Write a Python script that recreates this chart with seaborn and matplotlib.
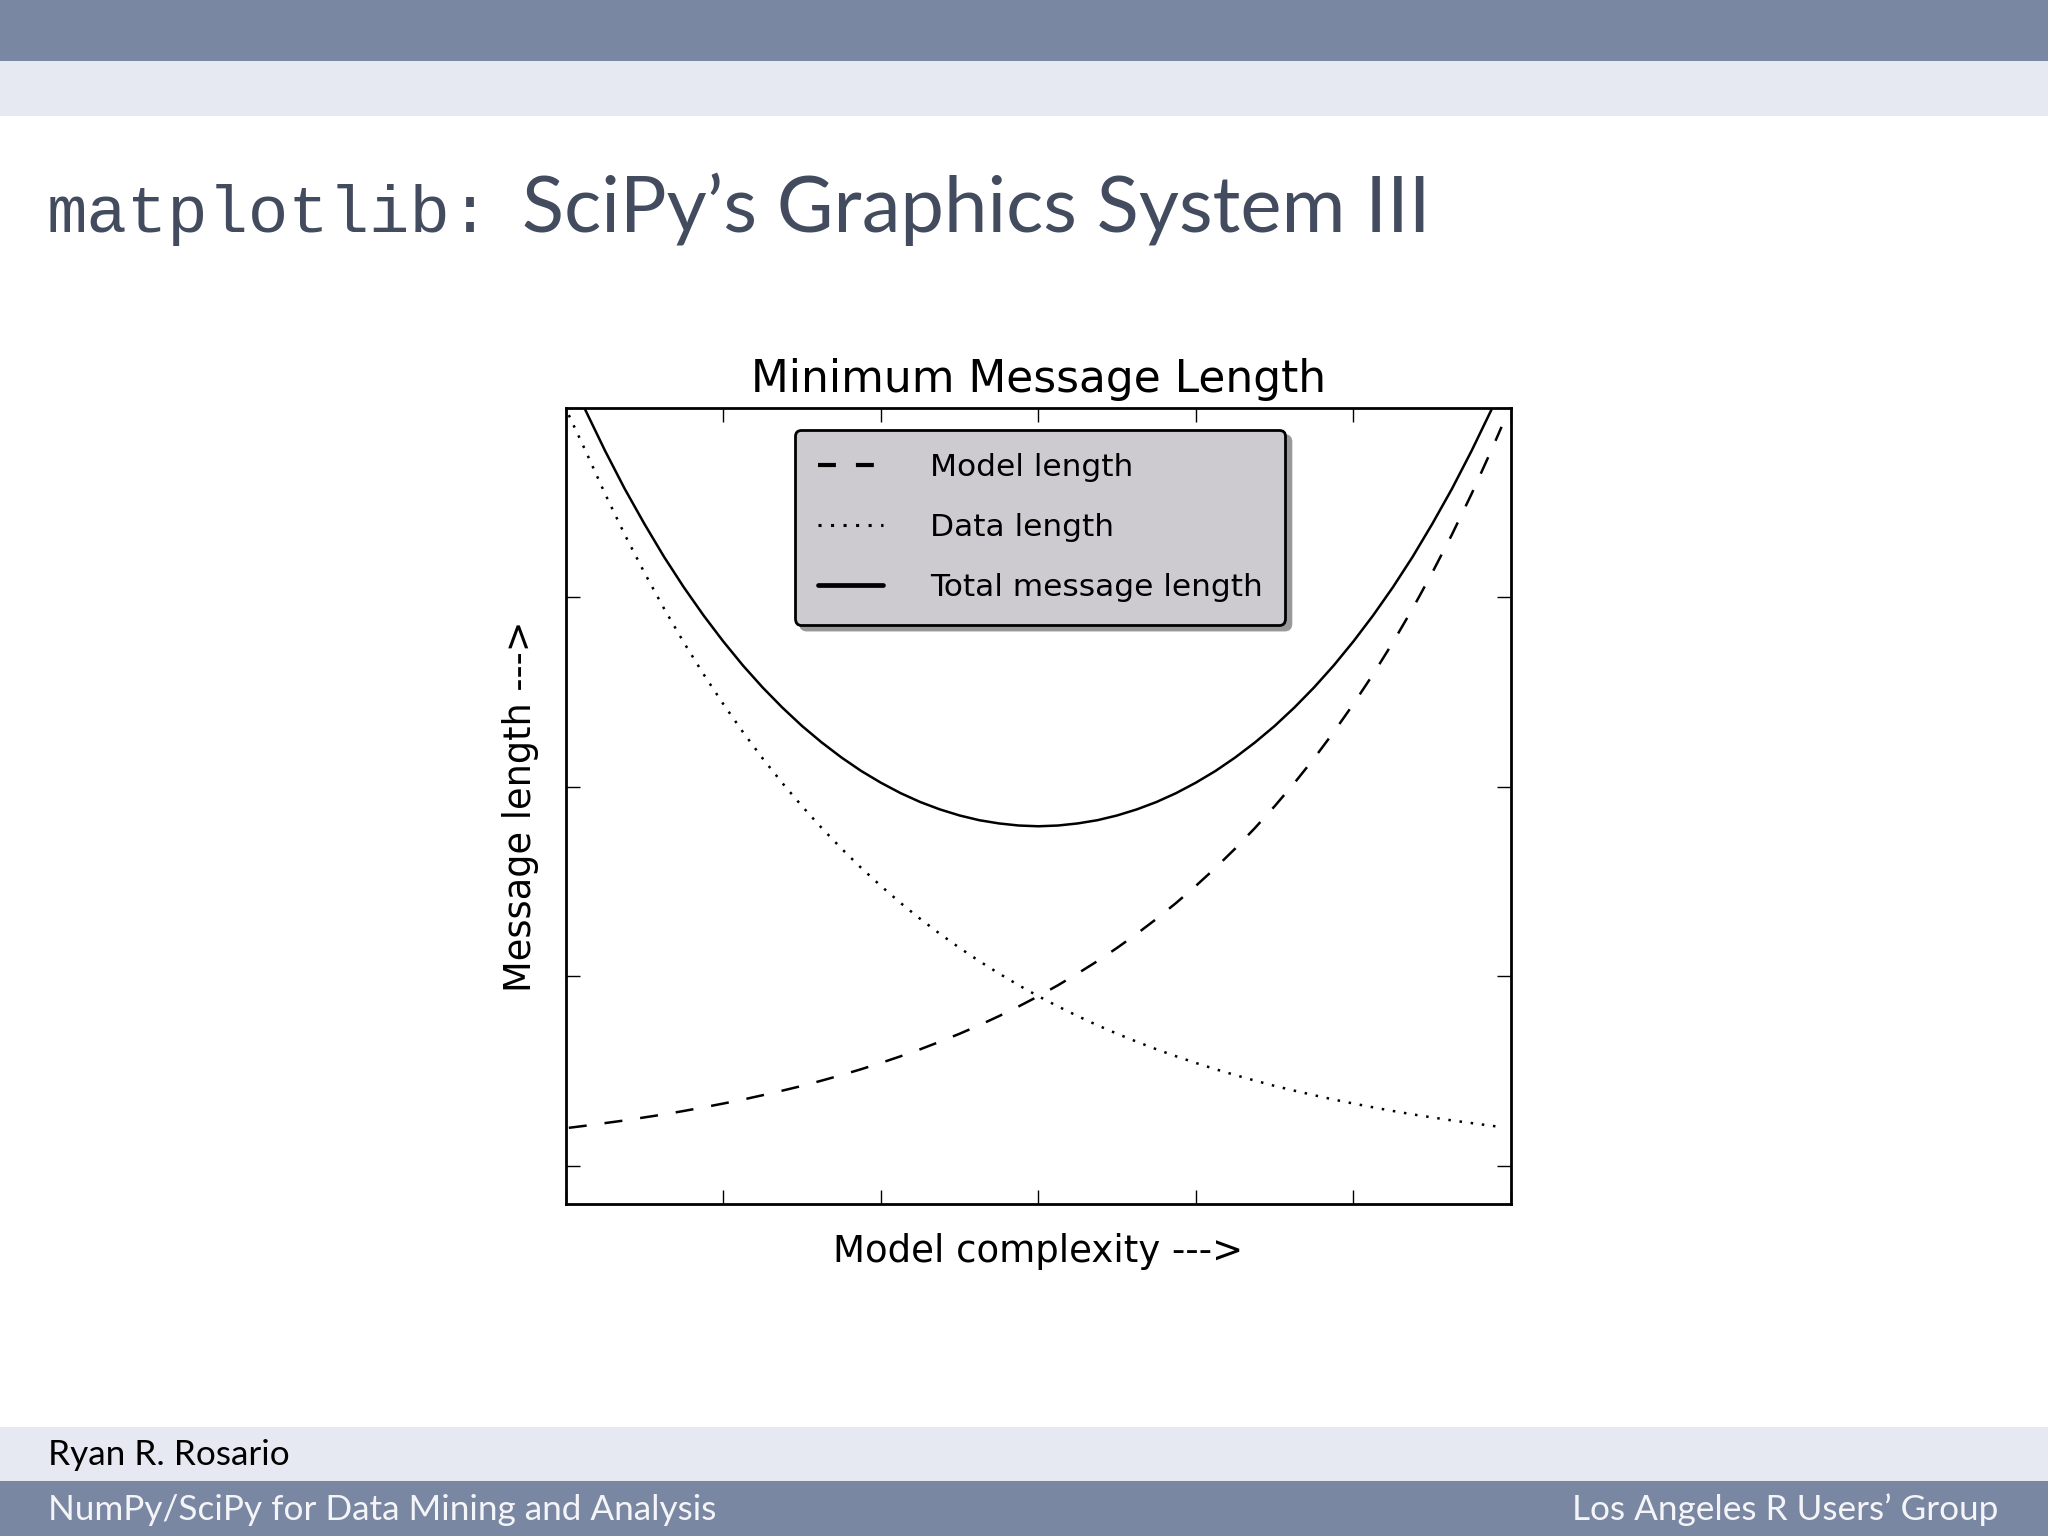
import matplotlib
matplotlib.use("Agg")
import matplotlib.pyplot as plt
import seaborn as sns
import pandas as pd
from matplotlib.patches import Rectangle

# values
complexity = [0.02, 0.125, 0.25, 0.375, 0.5, 0.625, 0.75, 0.875, 1.0, 1.125, 1.25, 1.375,
              1.5, 1.625, 1.75, 1.875, 2.0, 2.125, 2.25, 2.375, 2.5, 2.625, 2.75, 2.875,
              3.0, 3.125, 3.25, 3.375, 3.5, 3.625, 3.75, 3.875, 4.0, 4.125, 4.25, 4.375,
              4.5, 4.625, 4.75, 4.875, 5.0, 5.125, 5.25, 5.375, 5.5, 5.625, 5.75, 5.875, 5.94]
model_length = [0.202, 0.213, 0.227, 0.241, 0.257, 0.273, 0.291, 0.310, 0.330, 0.351, 0.374, 0.398,
                0.423, 0.451, 0.480, 0.511, 0.544, 0.579, 0.616, 0.656, 0.698, 0.743, 0.791, 0.842,
                0.896, 0.954, 1.016, 1.081, 1.151, 1.225, 1.304, 1.388, 1.478, 1.573, 1.675, 1.783,
                1.898, 2.020, 2.150, 2.289, 2.437, 2.594, 2.761, 2.939, 3.129, 3.330, 3.545, 3.774, 3.898]
data_length = [3.960, 3.774, 3.545, 3.330, 3.129, 2.939, 2.761, 2.594, 2.437, 2.289, 2.150, 2.020,
               1.898, 1.783, 1.675, 1.573, 1.478, 1.388, 1.304, 1.225, 1.151, 1.081, 1.016, 0.954,
               0.896, 0.842, 0.791, 0.743, 0.698, 0.656, 0.616, 0.579, 0.544, 0.511, 0.480, 0.451,
               0.423, 0.398, 0.374, 0.351, 0.330, 0.310, 0.291, 0.273, 0.257, 0.241, 0.227, 0.213, 0.206]
total_length = [4.179, 3.987, 3.772, 3.571, 3.386, 3.212, 3.052, 2.904, 2.767, 2.640, 2.524, 2.418,
                2.321, 2.234, 2.155, 2.084, 2.022, 1.967, 1.920, 1.881, 1.849, 1.824, 1.807, 1.796,
                1.792, 1.796, 1.807, 1.824, 1.849, 1.881, 1.920, 1.967, 2.022, 2.084, 2.155, 2.234,
                2.321, 2.418, 2.524, 2.640, 2.767, 2.904, 3.052, 3.212, 3.386, 3.571, 3.772, 3.987, 4.104]
series_names = ["Model length", "Data length", "Total message length"]

x_ticks = [0, 1, 2, 3, 4, 5, 6]
y_ticks = [0, 1, 2, 3, 4]

df = pd.DataFrame({"complexity": complexity,
                   series_names[0]: model_length,
                   series_names[1]: data_length,
                   series_names[2]: total_length})

sns.set_style("white")
plt.rcParams["font.family"] = ["DejaVu Sans"]
plt.rcParams["text.color"] = "black"
plt.rcParams["axes.labelcolor"] = "black"

fig = plt.figure(figsize=(20.48, 15.36), dpi=100)

# slide decoration (beamer-like bands)
dark = "#7a87a2"
light = "#e6e9f1"
fig.patches.append(Rectangle((0, 1 - 61 / 1536), 1, 61 / 1536, transform=fig.transFigure,
                             facecolor=dark, edgecolor="none", zorder=0))
fig.patches.append(Rectangle((0, 1 - 116 / 1536), 1, 55 / 1536, transform=fig.transFigure,
                             facecolor=light, edgecolor="none", zorder=0))
fig.patches.append(Rectangle((0, 55 / 1536), 1, 54 / 1536, transform=fig.transFigure,
                             facecolor=light, edgecolor="none", zorder=0))
fig.patches.append(Rectangle((0, 0), 1, 55 / 1536, transform=fig.transFigure,
                             facecolor=dark, edgecolor="none", zorder=0))

title_color = "#434b5e"
fig.text(47 / 2048, 1 - 232 / 1536, "matplotlib:", family=["Liberation Mono", "DejaVu Sans Mono"],
         fontsize=48.5, color=title_color, va="baseline")
fig.text(522 / 2048, 1 - 232 / 1536, "SciPy\u2019s Graphics System III",
         family=["Lato", "DejaVu Sans"], fontsize=56, color=title_color, va="baseline")

foot_font = ["Lato", "DejaVu Sans"]
fig.text(48 / 2048, 1 - 1465 / 1536, "Ryan R. Rosario", family=foot_font,
         fontsize=25.3, color="black", va="baseline")
fig.text(48 / 2048, 1 - 1520 / 1536, "NumPy/SciPy for Data Mining and Analysis",
         family=foot_font, fontsize=25.3, color="#f4f5f9", va="baseline")
fig.text(1998 / 2048, 1 - 1520 / 1536, "Los Angeles R Users\u2019 Group",
         family=foot_font, fontsize=25.3, color="#f4f5f9", va="baseline", ha="right")

ax = fig.add_axes([0.2762, 0.2161, 0.4616, 0.5186])

styles = [(0, (7.2, 7.2)), (0, (1, 3.5)), "-"]
for name, ls in zip(series_names, styles):
    sns.lineplot(data=df, x="complexity", y=name, ax=ax, color="black", linewidth=1.8,
                 linestyle=ls, label=name)

ax.set_xlim(0, 6)
ax.set_ylim(-0.2, 4)
ax.set_xticks(x_ticks)
ax.set_yticks(y_ticks)
ax.tick_params(direction="in", length=10, width=1, color="black",
               top=True, right=True, bottom=True, left=True,
               labelbottom=False, labelleft=False)
for s in ax.spines.values():
    s.set_visible(True)
    s.set_color("black")
    s.set_linewidth(2)

ax.set_title("Minimum Message Length", fontsize=31.6, pad=11, color="black")
ax.set_xlabel("Model complexity --->", fontsize=26.7, labelpad=21)
ax.set_ylabel("Message length --->", fontsize=26.5, labelpad=19)

leg = ax.legend(loc="upper center", bbox_to_anchor=(0.502, 1), fontsize=22.5, frameon=True,
                fancybox=True, shadow={"ox": 4, "oy": -4, "color": "0.6", "alpha": 1.0},
                facecolor="#cdcbcf", edgecolor="black", framealpha=1,
                borderaxespad=0.72, handlelength=2.1, handletextpad=1.5,
                labelspacing=1.0, borderpad=0.72)
leg.get_frame().set_linewidth(2)
handles = leg.get_lines()
handles[0].set_linewidth(3)
handles[0].set_linestyle((0, (4.3, 4.8)))
handles[1].set_linewidth(2.2)
handles[1].set_linestyle((0, (1, 3.1)))
handles[2].set_linewidth(3.4)

fig.savefig("out.png", dpi=100)
